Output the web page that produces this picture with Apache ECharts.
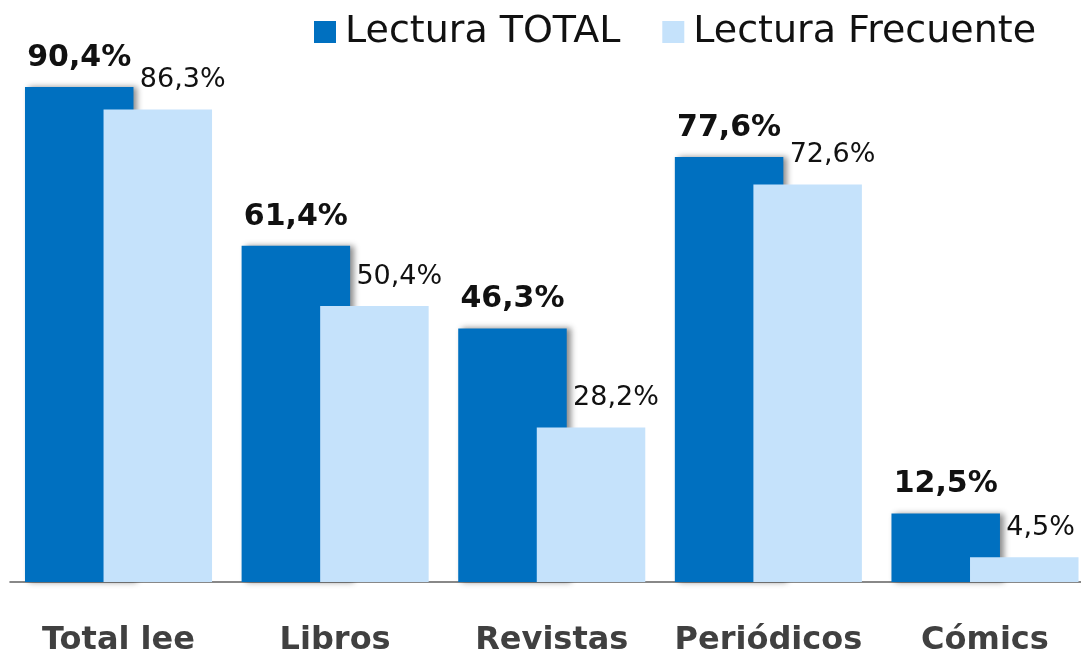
<!DOCTYPE html>
<html><head><meta charset="utf-8">
<script src="https://cdn.jsdelivr.net/npm/echarts@6/dist/echarts.min.js"></script>
<style>html,body{margin:0;padding:0;background:#fff}#c{width:1081px;height:658px}</style>
</head><body><div id="c"></div>
<script>
const categories = ['Total lee', 'Libros', 'Revistas', 'Periódicos', 'Cómics'];
const lecturaTotal = [90.4, 61.4, 46.3, 77.6, 12.5];
const lecturaFrecuente = [86.3, 50.4, 28.2, 72.6, 4.5];
const seriesNames = ['Lectura TOTAL', 'Lectura Frecuente'];

const fmt = v => v.toFixed(1).replace('.', ',') + '%';
const FONT = '"DejaVu Sans", sans-serif';

const chart = echarts.init(document.getElementById('c'));
chart.setOption({
  animation: false,
  textStyle: { fontFamily: FONT },
  legend: {
    top: 8, left: 309,
    itemWidth: 22, itemHeight: 22, itemGap: 42,
    icon: 'rect',
    textStyle: { fontSize: 38, color: '#111', fontFamily: FONT, padding: [0, 0, 0, 4] },
    data: seriesNames
  },
  grid: { left: 10.2, width: 1083.1, top: 34.4, bottom: 76, outerBoundsMode: 'none', containLabel: false },
  xAxis: {
    type: 'category', data: categories,
    axisLine: { lineStyle: { color: '#888', width: 2 } },
    axisTick: { show: false },
    axisLabel: { interval: 0, fontSize: 32, fontWeight: 'bold', color: '#404040', margin: 43, fontFamily: FONT }
  },
  yAxis: { type: 'value', min: 0, max: 100, show: false, splitLine: { show: false } },
  series: [
    {
      name: seriesNames[0], type: 'bar', data: lecturaTotal,
      barWidth: 108.5, barGap: '-27.6%', z: 2,
      itemStyle: { color: '#0070C0', shadowColor: 'rgba(0,0,0,0.45)', shadowBlur: 6, shadowOffsetX: 4, shadowOffsetY: 0 },
      label: { show: true, position: 'top', distance: 14, fontSize: 30, fontWeight: 'bold', color: '#111', fontFamily: FONT, formatter: p => fmt(p.value) }
    },
    {
      name: seriesNames[1], type: 'bar', data: lecturaFrecuente,
      barWidth: 108.5, z: 3,
      itemStyle: { color: '#C5E2FB' },
      label: { show: true, position: 'top', align: 'left', distance: 16, offset: [-18, 0], fontSize: 27, color: '#111', fontFamily: FONT, formatter: p => fmt(p.value) }
    }
  ]
});
</script></body></html>
